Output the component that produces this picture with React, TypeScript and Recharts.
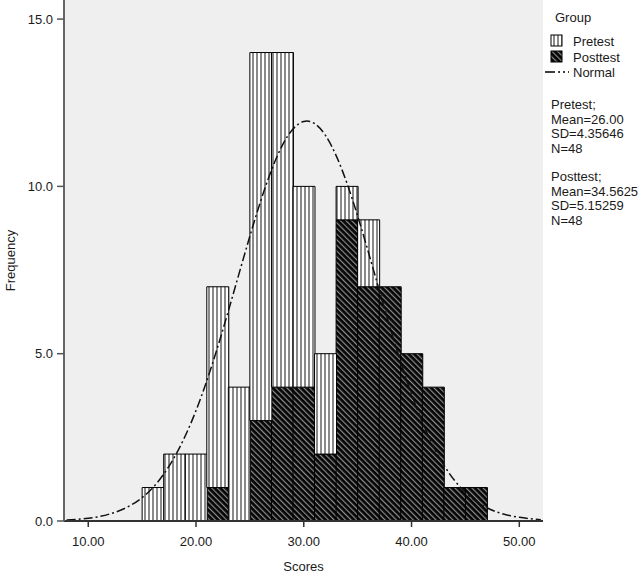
import { ComposedChart, Bar, Line, XAxis, YAxis, CartesianGrid, Legend } from 'recharts'

// histogram bins are 2 units wide, keyed by their midpoint
const binMids = [16, 18, 20, 22, 24, 26, 28, 30, 32, 34, 36, 38, 40, 42, 44, 46]
const pretestCounts = [1, 2, 2, 6, 4, 11, 10, 6, 3, 1, 2, 0, 0, 0, 0, 0]
const posttestCounts = [0, 0, 0, 1, 0, 3, 4, 4, 2, 9, 7, 7, 5, 4, 1, 1]

// normal curve
const curveX = [8, 10, 12, 14, 16, 18, 20, 22, 24, 26, 28, 30, 32, 34, 36, 38, 40, 42, 44, 46, 48, 50, 52]
const normalFreq = [0.03, 0.08, 0.21, 0.48, 1.0, 1.91, 3.3, 5.19, 7.4, 9.56, 11.22, 11.94, 11.53, 10.1, 8.03, 5.79, 3.79, 2.25, 1.21, 0.59, 0.26, 0.11, 0.04]

const xTicks = [10, 20, 30, 40, 50]
const yTicks = [0, 5, 10, 15]

const statLines = [
  ['Pretest;', 'Mean=26.00', 'SD=4.35646', 'N=48'],
  ['Posttest;', 'Mean=34.5625', 'SD=5.15259', 'N=48'],
]

const chartData = curveX.map((x, i) => {
  const b = binMids.indexOf(x)
  return {
    x,
    normal: normalFreq[i],
    post: b >= 0 && posttestCounts[b] > 0 ? posttestCounts[b] : null,
    pre: b >= 0 && pretestCounts[b] > 0 ? pretestCounts[b] : null,
  }
})

function Patterns({ suffix }: { suffix: string }) {
  return (
    <defs>
      <pattern id={`vstripe${suffix}`} width="4" height="4" patternUnits="userSpaceOnUse">
        <rect width="4" height="4" fill="#ffffff" />
        <rect x="0" width="2" height="4" fill="#8a8a8a" />
      </pattern>
      <pattern id={`dstripe${suffix}`} width="4" height="4" patternUnits="userSpaceOnUse" patternTransform="rotate(-45)">
        <rect width="4" height="4" fill="#050505" />
        <rect x="0" width="1.2" height="4" fill="#8c8c8c" />
      </pattern>
    </defs>
  )
}

function GroupLegend() {
  const font = { fontSize: 13, fill: '#1a1a1a' }
  return (
    <svg width={95} height={235}>
      <Patterns suffix="L" />
      <text x={10} y={22} {...font}>Group</text>
      <rect x={6} y={35} width={11} height={11} fill="url(#vstripeL)" stroke="#000" />
      <text x={28} y={46} {...font}>Pretest</text>
      <rect x={6} y={51} width={11} height={11} fill="url(#dstripeL)" stroke="#000" />
      <text x={28} y={62} {...font}>Posttest</text>
      <line x1={0} x2={24} y1={72} y2={72} stroke="#000" strokeWidth={1.3} strokeDasharray="10 3 2 3 2 3" />
      <text x={28} y={77} {...font}>Normal</text>
      {statLines.map((block, bi) =>
        block.map((s, li) => (
          <text key={`${bi}-${li}`} x={6} y={109 + bi * 72 + li * 14.5} {...font}>{s}</text>
        ))
      )}
    </svg>
  )
}

export default function App() {
  return (
    <div style={{ position: 'absolute', left: 0, top: 0, background: '#fff', fontFamily: '"Liberation Sans", Arial, sans-serif' }}>
      <ComposedChart
        width={640}
        height={575}
        data={chartData}
        margin={{ top: 0, right: 97, bottom: 0, left: 0 }}
        barCategoryGap={0}
        barGap={0}
      >
        <Patterns suffix="" />
        <CartesianGrid fill="#efefef" horizontal={false} vertical={false} />
        <XAxis
          dataKey="x"
          type="number"
          domain={[7.75, 52.2]}
          allowDataOverflow
          ticks={xTicks}
          tickFormatter={(v: number) => v.toFixed(2)}
          height={54}
          tickSize={6}
          tickMargin={10}
          tick={{ fontSize: 13, fill: '#1a1a1a' }}
          axisLine={{ stroke: '#333', strokeWidth: 2 }}
          tickLine={{ stroke: '#333', strokeWidth: 1.5 }}
          label={{ value: 'Scores', position: 'insideBottom', offset: 4, style: { fontSize: 13, fill: '#1a1a1a' } }}
        />
        <YAxis
          domain={[0, 15.57]}
          allowDataOverflow
          ticks={yTicks}
          tickFormatter={(v: number) => v.toFixed(1)}
          width={64}
          tickSize={7}
          tickMargin={4}
          tick={{ fontSize: 13, fill: '#1a1a1a' }}
          axisLine={{ stroke: '#666', strokeWidth: 2 }}
          tickLine={{ stroke: '#555', strokeWidth: 1.5 }}
          label={{ value: 'Frequency', angle: -90, position: 'insideLeft', offset: 10, style: { fontSize: 13, fill: '#1a1a1a', textAnchor: 'middle' } }}
        />
        <YAxis yAxisId="frame" orientation="right" width={0} tick={false} tickLine={false} axisLine={{ stroke: '#888', strokeWidth: 2 }} />
        <Bar dataKey="post" stackId="g" fill="url(#dstripe)" stroke="#000" strokeWidth={1} isAnimationActive={false} />
        <Bar dataKey="pre" stackId="g" fill="url(#vstripe)" stroke="#000" strokeWidth={1} isAnimationActive={false} />
        <Line
          dataKey="normal"
          type="natural"
          stroke="#111"
          strokeWidth={1.5}
          strokeDasharray="9 3 2 3"
          dot={false}
          activeDot={false}
          isAnimationActive={false}
        />
        <Legend
          layout="horizontal"
          verticalAlign="middle"
          align="center"
          wrapperStyle={{ left: 545, top: 0, width: 95, height: 235 }}
          content={() => <GroupLegend />}
        />
      </ComposedChart>
    </div>
  )
}
